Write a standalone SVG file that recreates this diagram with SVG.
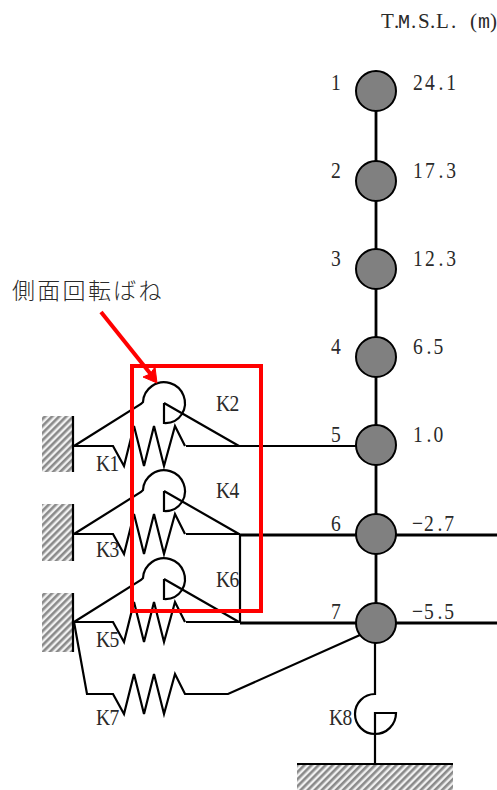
<svg xmlns="http://www.w3.org/2000/svg" width="497" height="790" viewBox="0 0 497 790">
<style>
.t{font-family:"Liberation Serif","Noto Sans CJK JP",serif;font-size:23px;fill:#2a2a2a}
.m{font-family:"Liberation Mono",monospace;font-size:20px}
.j{font-family:"Noto Sans CJK JP","Liberation Serif",serif;font-size:23px;font-weight:300;fill:#2a2a2a;letter-spacing:2.3px}
.n{fill:#808080;stroke:#000;stroke-width:2}
.l{fill:none;stroke:#000;stroke-width:2.2;stroke-linejoin:miter}
.b{fill:none;stroke:#000;stroke-width:2.8}
.r{fill:none;stroke:#f00;stroke-width:4}
</style>
<defs>
<pattern id="h" width="5" height="5" patternUnits="userSpaceOnUse" patternTransform="rotate(45)">
<rect width="5" height="5" fill="#f0f0f0"/><rect width="2.6" height="5" fill="#8a8a8a"/>
</pattern>
<g id="spring"><path class="l" d="M74 0H113L124 20 134 -20 144 20 154 -20 164 20 175 -20 185 0"/></g>
<g id="rot"><path class="l" d="M74 43L141 1 143 -1A21 21 0 1 1 182 11M164 0V20A20 20 0 0 0 182 11M164 0L239 43"/></g>
</defs>
<g id="supports">
<rect x="42" y="416" width="31" height="56" fill="url(#h)"/>
<rect x="42" y="504" width="31" height="57" fill="url(#h)"/>
<rect x="42" y="593" width="31" height="59" fill="url(#h)"/>
<rect x="297" y="764" width="156" height="26" fill="url(#h)"/>
<path class="l" d="M73 416V472M73 504V561M73 593V652M297 764H453"/>
</g>
<g id="connectors">
<path class="b" d="M376 110V606"/>
<path class="l" d="M186 446H356M186 534H240M186 622H240M240 534V623"/>
<path class="b" d="M240 535H356M396 535H497M240 623H356M396 623H497"/>
<use href="#spring" y="446"/><use href="#spring" y="534"/><use href="#spring" y="622"/>
<path class="l" d="M74 622L87 694H113L124 714 134 674 144 714 154 674 164 714 175 674 185 694H228L360 635"/>
<use href="#rot" y="403"/><use href="#rot" y="491"/><use href="#rot" y="579"/>
<path class="l" d="M375 643V694A20 20 0 0 0 375 734A21 21 0 0 0 396 713H375V764"/>
</g>
<g id="n1"><circle class="n" cx="376" cy="91" r="20"/><text class="t" transform="translate(331 90) scale(.85 1)">1</text><text class="t" transform="translate(413 90) scale(.85 1)" x="0 14 30 39">24.1</text></g>
<g id="n2"><circle class="n" cx="376" cy="181" r="20"/><text class="t" transform="translate(331 178) scale(.85 1)">2</text><text class="t" transform="translate(413 178) scale(.85 1)" x="0 14 30 39">17.3</text></g>
<g id="n3"><circle class="n" cx="376" cy="269" r="20"/><text class="t" transform="translate(331 266) scale(.85 1)">3</text><text class="t" transform="translate(413 266) scale(.85 1)" x="0 14 30 39">12.3</text></g>
<g id="n4"><circle class="n" cx="376" cy="357" r="20"/><text class="t" transform="translate(331 354) scale(.85 1)">4</text><text class="t" transform="translate(413 354) scale(.85 1)" x="0 16 24">6.5</text></g>
<g id="n5"><circle class="n" cx="376" cy="445" r="20"/><text class="t" transform="translate(331 442) scale(.85 1)">5</text><text class="t" transform="translate(413 442) scale(.85 1)" x="0 16 24">1.0</text></g>
<g id="n6"><circle class="n" cx="376" cy="534" r="20"/><text class="t" transform="translate(331 531) scale(.85 1)">6</text><text class="t" transform="translate(412 531) scale(.85 1)" x="0 14 30 38">−2.7</text></g>
<g id="n7"><circle class="n" cx="376" cy="623" r="20"/><text class="t" transform="translate(331 619) scale(.85 1)">7</text><text class="t" transform="translate(412 619) scale(.85 1)" x="0 14 30 38">−5.5</text></g>
<g id="labels">
<text class="t" style="font-size:21px" y="28"><tspan x="381">T</tspan><tspan x="394">.</tspan><tspan class="m" x="398">M</tspan><tspan x="411">.</tspan><tspan x="418">S</tspan><tspan x="430">.</tspan><tspan x="436">L</tspan><tspan x="451">.</tspan><tspan x="470">(</tspan><tspan class="m" x="478">m</tspan><tspan x="490">)</tspan></text>
<text class="t" transform="translate(216 411) scale(.85 1)" x="0 16">K2</text>
<text class="t" transform="translate(216 498) scale(.85 1)" x="0 16">K4</text>
<text class="t" transform="translate(216 587) scale(.85 1)" x="0 16">K6</text>
<text class="t" transform="translate(96 471) scale(.85 1)" x="0 16">K1</text>
<text class="t" transform="translate(96 557) scale(.85 1)" x="0 16">K3</text>
<text class="t" transform="translate(96 647) scale(.85 1)" x="0 16">K5</text>
<text class="t" transform="translate(96 725) scale(.85 1)" x="0 16">K7</text>
<text class="t" transform="translate(329 725) scale(.85 1)" x="0 16">K8</text>
<text class="j" x="12" y="299">側面回転ばね</text>
</g>
<g id="highlight">
<rect class="r" x="132" y="366" width="129" height="245"/>
<path class="r" d="M101 312L153 377"/>
<path d="M157 383L143 377 150 374 155 367Z" fill="#f00" stroke="#f00"/>
</g>
</svg>
